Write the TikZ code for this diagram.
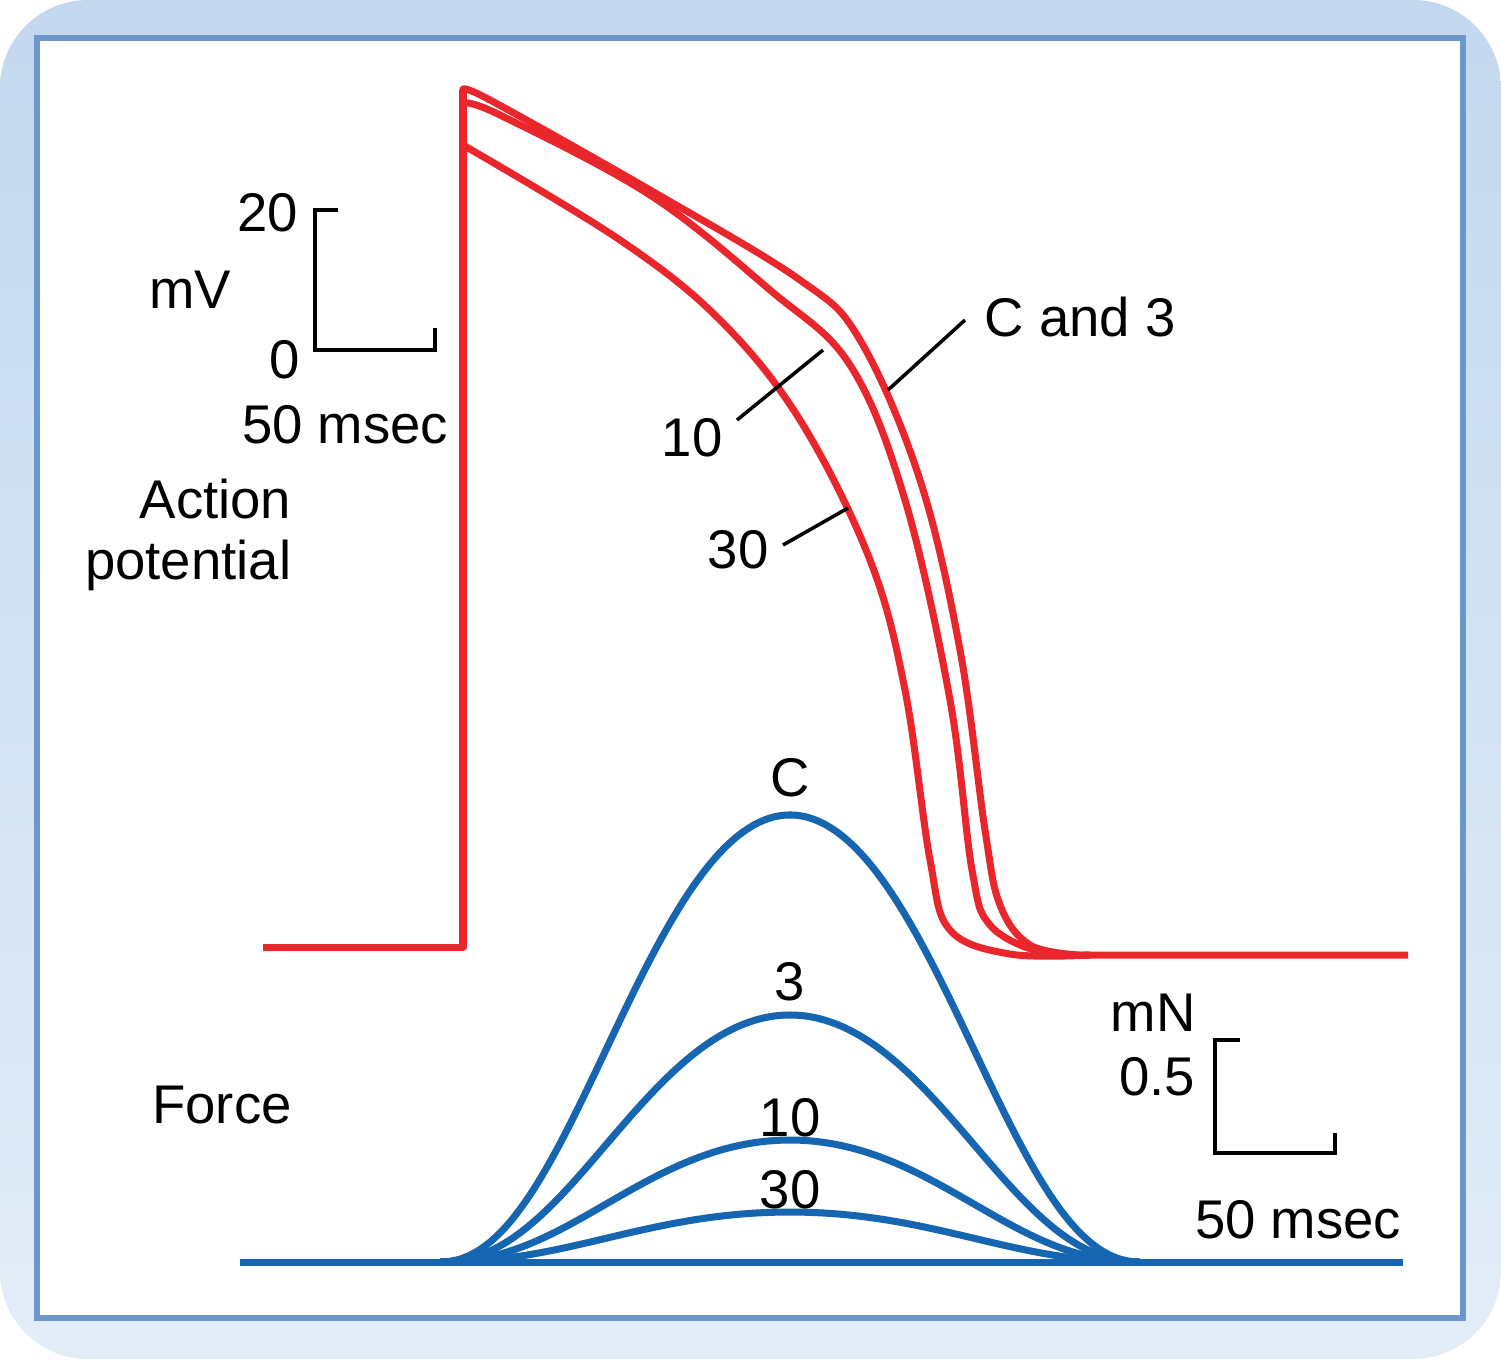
\documentclass[tikz,border=0pt]{standalone}
\usepackage{fontspec}
\setmainfont{Liberation Sans}
\definecolor{apred}{HTML}{E8262B}
\definecolor{fblue}{HTML}{1565B0}
\definecolor{frameblue}{HTML}{6B97CC}
\definecolor{bgtop}{HTML}{C3D8EF}
\definecolor{bgbot}{HTML}{E3EDF8}
\begin{document}
\begin{tikzpicture}[x=0.01cm,y=-0.01cm,
  red/.style={apred,line width=2pt,line join=round},
  blu/.style={fblue,line width=2pt,line join=round},
  blk/.style={black,line width=1pt},
  lbl/.style={font=\fontsize{15.5}{17.5}\selectfont,inner sep=0pt}]
\useasboundingbox (0,0) rectangle (1501,1359);
\shade[top color=bgtop,bottom color=bgbot,rounded corners=25pt] (0,0) rectangle (1501,1359);
\draw[frameblue,line width=1.8pt,fill=white] (37,38) rectangle (1463,1318);
% red
\draw[red] (263,947) -- (463,947) -- (463,90);
\draw[red] plot[smooth,tension=0.6] coordinates {(463,90) (490,100) (650,190) (800,280) (860,340) (920,480) (960,650) (985,830) (1000,905) (1030,945) (1080,955)} -- (1408,955);
\draw[red] plot[smooth,tension=0.6] coordinates {(463,103) (500,115) (650,195) (770,290) (850,365) (905,500) (950,700) (972,870) (990,925) (1040,952) (1090,955)};
\draw[red] plot[smooth,tension=0.6] coordinates {(463,145) (620,240) (720,320) (800,420) (870,560) (905,690) (930,860) (950,930) (1010,954) (1090,955)};
% blue
\draw[blu] (240,1262) -- (1403,1262);
\foreach \a in {447,247,122,50}
  \draw[blu] plot[smooth,domain=4.4:11.4,samples=70] ({100*\x},{1262-\a*exp(-((\x-7.9)^2)/(2*1.7*1.7))*(1-((\x-7.9)/3.5)^4)^2});
% scale bars
\draw[blk] (338,210) -- (315,210) -- (315,350) -- (435,350) -- (435,328);
\draw[blk] (1240,1040) -- (1215,1040) -- (1215,1153) -- (1335,1153) -- (1335,1133);
\draw[blk] (965,320) -- (888,390);
\draw[blk] (737,420) -- (823,350);
\draw[blk] (783,545) -- (848,508);
% labels
\node[lbl] at (268,213) {20};
\node[lbl] at (190,290) {mV};
\node[lbl] at (285,360) {0};
\node[lbl] at (345,425) {50 msec};
\node[lbl,align=right,anchor=east] at (292,535) {Action\\potential};
\node[lbl] at (1080,317) {C and 3};
\node[lbl] at (692,438) {10};
\node[lbl] at (738,550) {30};
\node[lbl] at (790,778) {C};
\node[lbl] at (790,982) {3};
\node[lbl] at (790,1118) {10};
\node[lbl] at (790,1190) {30};
\node[lbl] at (1153,1013) {mN};
\node[lbl] at (1157,1077) {0.5};
\node[lbl] at (1298,1220) {50 msec};
\node[lbl] at (222,1105) {Force};
\end{tikzpicture}
\end{document}
